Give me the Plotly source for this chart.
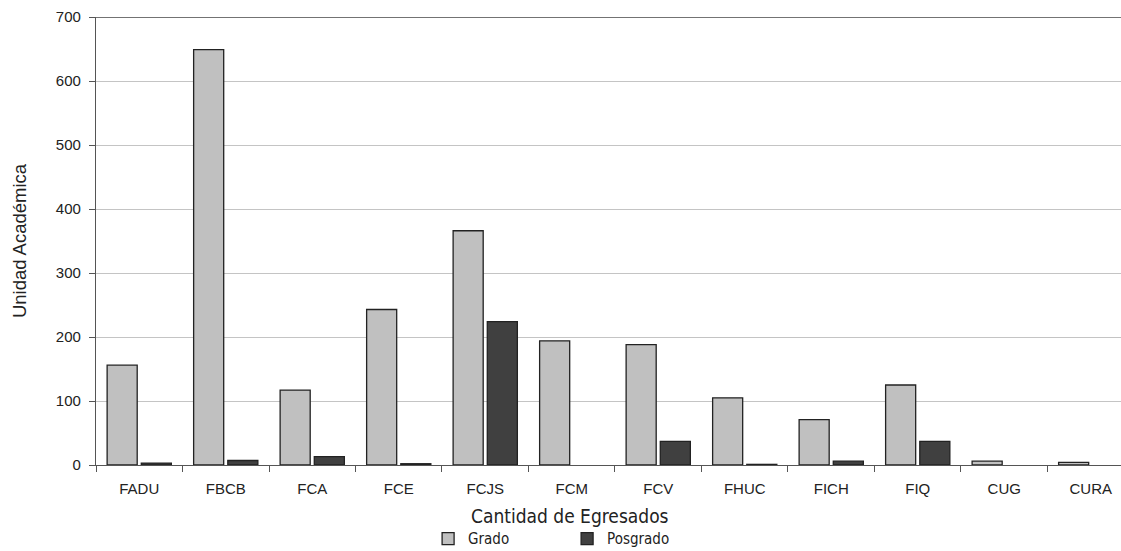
import plotly.graph_objects as go

categories = ["FADU", "FBCB", "FCA", "FCE", "FCJS", "FCM", "FCV", "FHUC", "FICH", "FIQ", "CUG", "CURA"]
grado = [156, 649, 117, 243, 366, 194, 188, 105, 71, 125, 6, 4]
posgrado = [3, 7, 13, 2, 224, None, 37, 1, 6, 37, None, None]
y_ticks = [0, 100, 200, 300, 400, 500, 600, 700]

tick_font = dict(family="Liberation Sans, Arial", size=15, color="#222")
ytitle_font = dict(family="Liberation Sans, Arial", size=18.5, color="#222")
xtitle_font = dict(family="DejaVu Sans Condensed, Liberation Sans Narrow, Liberation Sans", size=19, color="#222")

fig = go.Figure()
fig.add_trace(go.Bar(x=categories, y=grado, name="Grado",
                     marker=dict(color="#c0c0c0", line=dict(color="#222", width=1.3))))
fig.add_trace(go.Bar(x=categories, y=posgrado, name="Posgrado",
                     marker=dict(color="#404040", line=dict(color="#222", width=1.3))))

fig.update_layout(
    width=1121, height=551,
    margin=dict(l=96, r=0, t=17, b=86, autoexpand=False),
    plot_bgcolor="white", paper_bgcolor="white",
    barmode="group", bargap=0.21, bargroupgap=0.12,
    showlegend=True,
    legend=dict(orientation="h", x=0.324, xanchor="left",
                yref="container", y=0.022, yanchor="middle",
                font=dict(family="DejaVu Sans Condensed, Liberation Sans", size=15, color="#222"),
                entrywidth=94, itemwidth=30, traceorder="normal"),
    xaxis=dict(
        range=[-0.5, 11.35], tickfont=tick_font, automargin=False,
        showline=True, linecolor="#555", linewidth=1.3,
        ticks="outside", tickson="boundaries", ticklen=6, tickcolor="#555",
        ticklabelstandoff=10,
        showgrid=False,
    ),
    yaxis=dict(
        range=[0, 700], tickvals=y_ticks, tickfont=tick_font, automargin=False,
        showline=True, linecolor="#555", linewidth=1.3,
        ticks="outside", ticklen=6, tickcolor="#555",
        ticklabelstandoff=5,
        showgrid=True, gridcolor="#c4c4c4", gridwidth=1,
        title=dict(text="Unidad Académica", font=ytitle_font, standoff=24),
        zeroline=False,
    ),
)
fig.add_annotation(text="Cantidad de Egresados", xref="paper", yref="paper",
                   x=0.4624, y=-0.1138, xanchor="center", yanchor="middle",
                   showarrow=False, font=xtitle_font)
fig.add_shape(type="line", xref="paper", yref="y", x0=0, x1=1, y0=700, y1=700,
              line=dict(color="#444", width=1.5))

fig.write_html("out.html", config={"displayModeBar": False})

with open("out.html", encoding="utf-8") as f:
    html = f.read()
html = html.replace("<body>", '<body style="margin:0;padding:0;overflow:hidden">', 1)
with open("out.html", "w", encoding="utf-8") as f:
    f.write(html)
